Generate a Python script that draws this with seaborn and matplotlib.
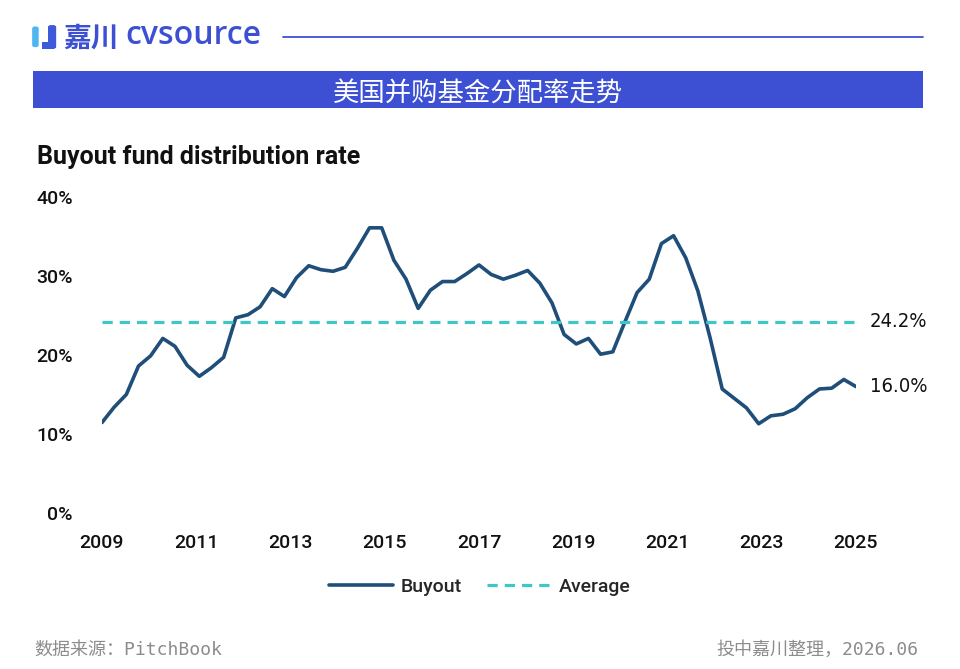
import numpy as np
import pandas as pd
import matplotlib.pyplot as plt
import seaborn as sns
from matplotlib.patches import Rectangle, FancyBboxPatch
from matplotlib.transforms import blended_transform_factory

# quarterly buyout distribution rate (%), 2009 -> 2025
buyout = [11.45, 13.4, 15.0, 18.6, 19.9, 22.1, 21.1, 18.7, 17.3, 18.4,
          19.7, 24.7, 25.1, 26.1, 28.4, 27.4, 29.8, 31.3, 30.8, 30.6,
          31.1, 33.5, 36.1, 36.1, 32.0, 29.6, 25.9, 28.2, 29.3, 29.3,
          30.3, 31.4, 30.2, 29.6, 30.1, 30.7, 29.1, 26.6, 22.6, 21.4,
          22.1, 20.1, 20.4, 24.2, 27.9, 29.6, 34.1, 35.1, 32.3, 28.1,
          22.2, 15.7, 14.5, 13.3, 11.3, 12.3, 12.5, 13.2, 14.6, 15.7,
          15.8, 16.9, 16.0]
average = 24.2
year_labels = ['2009', '2011', '2013', '2015', '2017', '2019', '2021', '2023', '2025']
y_ticks = [0, 10, 20, 30, 40]

df = pd.DataFrame({'periodo': np.arange(len(buyout)), 'taxa': buyout})

sns.set_theme(style='white')
plt.rcParams['font.family'] = ['Roboto', 'Noto Sans CJK SC', 'DejaVu Sans']

azul = '#3d50d4'
navy = '#1f4e79'
turquesa = '#3ec6c8'
cinza = '#8c8c8c'

fig = plt.figure(figsize=(9.6, 6.69), dpi=100)
ax = fig.add_axes([0.10625, 0.2332, 0.7854, 0.4723])

sns.lineplot(data=df, x='periodo', y='taxa', ax=ax, color=navy, linewidth=2.6, label='Buyout')
ax.axhline(average, color=turquesa, linewidth=2.3, linestyle=(0, (3.2, 2.2)), label='Average')

ax.set_xlim(0, len(buyout) - 1)
ax.set_ylim(0, 40)
ax.set_xticks(np.linspace(0, len(buyout) - 1, len(year_labels)))
ax.set_xticklabels(year_labels)
ax.set_yticks(y_ticks)
ax.set_yticklabels([f'{t}%' for t in y_ticks])
ax.tick_params(axis='y', length=0, pad=21, labelsize=14, labelcolor='#111111')
ax.tick_params(axis='x', length=0, pad=15, labelsize=14, labelcolor='#111111')
for lbl in ax.get_xticklabels() + ax.get_yticklabels():
    lbl.set_fontweight('medium')
ax.set_xlabel('')
ax.set_ylabel('')
sns.despine(ax=ax, left=True, bottom=True)

# valores na ponta direita
tr = blended_transform_factory(ax.transAxes, ax.transData)
for v in [average, buyout[-1]]:
    ax.text(1.018, v, f'{v:.1f}%', transform=tr, va='center', ha='left',
            fontsize=14.5, color='#111111', family=['DejaVu Sans'], fontstretch='condensed')

leg = ax.legend(loc='center', bbox_to_anchor=(0.5, 0.1226), bbox_transform=fig.transFigure,
                ncol=2, frameon=False, fontsize=14, handlelength=3.3, handletextpad=0.4,
                columnspacing=1.3)
for t in leg.get_texts():
    t.set_fontweight('medium')

# cabeçalho: ícone + marca
fig.add_artist(FancyBboxPatch((0.0335, 0.9295), 0.0068, 0.031, boxstyle='round,pad=0,rounding_size=0.003',
                              color='#4fb6f2', linewidth=0))
fig.add_artist(FancyBboxPatch((0.0500, 0.9270), 0.0085, 0.0355, boxstyle='round,pad=0,rounding_size=0.003',
                              color='#3d5ad8', linewidth=0))
fig.add_artist(Rectangle((0.0440, 0.9270), 0.0120, 0.0100, color='#3d5ad8', linewidth=0))
fig.text(0.066, 0.9415, '嘉川', fontsize=20, fontweight='bold', color=azul, va='center', ha='left',
         family=['Noto Sans CJK SC'])
fig.text(0.131, 0.9465, 'cvsource', fontsize=23, fontweight='semibold', color=azul, va='center', ha='left',
         family=['Open Sans'])
fig.add_artist(plt.Line2D([0.295, 0.961], [0.9447, 0.9447], color=azul, linewidth=1.3))

fig.add_artist(Rectangle((0.0344, 0.8386), 0.927, 0.0553, color=azul, linewidth=0))
fig.text(0.498, 0.859, '美国并购基金分配率走势', fontsize=19, color='white', ha='center', va='center',
         family=['Noto Sans CJK SC'])

fig.text(0.0385, 0.7653, 'Buyout fund distribution rate', fontsize=18, fontweight='bold',
         color='#111111', ha='left', va='center')

# rodapé
fig.text(0.036, 0.0284, '数据来源：PitchBook', fontsize=13, color=cinza, ha='left', va='center',
         family=['DejaVu Sans Mono', 'Noto Sans CJK SC'])
fig.text(0.957, 0.0284, '投中嘉川整理，2026.06', fontsize=13, color=cinza, ha='right', va='center',
         family=['DejaVu Sans Mono', 'Noto Sans CJK SC'])

fig.savefig('out.png', dpi=100)
